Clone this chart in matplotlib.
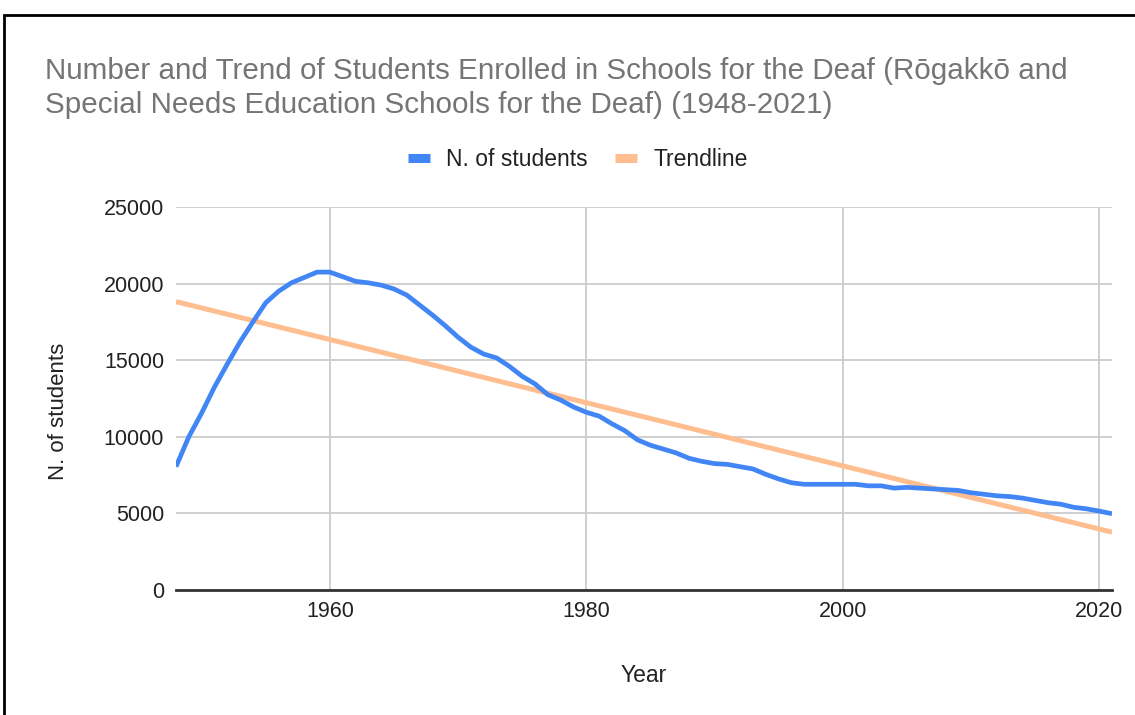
import numpy as np
import matplotlib
matplotlib.use("Agg")
import matplotlib.pyplot as plt
from matplotlib.patches import Rectangle

plt.rcParams['font.family'] = ['Liberation Sans', 'DejaVu Sans']

TITLE = ("Number and Trend of Students Enrolled in Schools for the Deaf (Rōgakkō and\n"
         "Special Needs Education Schools for the Deaf) (1948-2021)")

years = list(range(1948, 2022))
students = [
    8050, 10000, 11550, 13250, 14750, 16200, 17500, 18750, 19500, 20050,
    20400, 20750, 20750, 20450, 20150, 20050, 19900, 19650, 19250, 18600,
    17950, 17250, 16500, 15850, 15400, 15150, 14600, 13950, 13450, 12750,
    12400, 11950, 11600, 11350, 10850, 10400, 9800, 9450, 9200, 8950,
    8600, 8400, 8250, 8200, 8050, 7900, 7550, 7250, 7000, 6900,
    6900, 6900, 6900, 6900, 6800, 6800, 6650, 6700, 6650, 6600,
    6550, 6500, 6350, 6250, 6150, 6100, 6000, 5850, 5700, 5600,
    5400, 5300, 5150, 4980,
]
x_ticks = [1960, 1980, 2000, 2020]
y_ticks = [0, 5000, 10000, 15000, 20000, 25000]

BLUE = '#4285F4'
ORANGE = '#FFBE8F'
GRID = '#CCCCCC'
TXT = '#222222'

# linear trendline, like the spreadsheet does
slope, icpt = np.polyfit(years, students, 1)
trend = [slope * y + icpt for y in years]

fig = plt.figure(figsize=(11.35, 7.15), dpi=100)
ax = fig.add_axes([176 / 1135, 125 / 715, 936 / 1135, 383 / 715])

ax.plot(years, trend, color=ORANGE, lw=3.6, solid_capstyle='butt', label='Trendline', zorder=3)
ax.plot(years, students, color=BLUE, lw=3.4, solid_capstyle='butt',
        solid_joinstyle='round', label='N. of students', zorder=4)

ax.set_xlim(1948, 2021)
ax.set_ylim(0, 25000)
ax.set_xticks(x_ticks)
ax.set_yticks(y_ticks)
ax.grid(True, color=GRID, lw=1.3)
ax.set_axisbelow(True)
for s in ['top', 'right', 'left']:
    ax.spines[s].set_visible(False)
ax.spines['bottom'].set_color('#333333')
ax.spines['bottom'].set_linewidth(2)
ax.spines['bottom'].set_zorder(5)
ax.tick_params(axis='both', length=0, labelsize=15.5, colors=TXT)
ax.tick_params(axis='x', pad=8)
ax.tick_params(axis='y', pad=8.5)

ax.set_xlabel('Year', fontsize=16.5, color=TXT, labelpad=30)
fig.text(58 / 1135, 1 - 411 / 715, 'N. of students', fontsize=16, color=TXT,
         rotation=90, ha='center', va='center')

fig.text(45 / 1135, 1 - 88 / 715, TITLE, fontsize=21.3, color='#757575',
         ha='left', va='center', linespacing=1.25)

handles, labels = ax.get_legend_handles_labels()
leg = fig.legend(handles[::-1], labels[::-1], loc='center', bbox_to_anchor=(578 / 1135, 1 - 160 / 715),
                 ncol=2, frameon=False, fontsize=16.5, handlelength=0.95, handletextpad=0.7,
                 columnspacing=1.2)
for h in leg.legend_handles:
    h.set_linewidth(6.5)
for t in leg.get_texts():
    t.set_color(TXT)

# black frame around the chart (cropped on right and bottom)
fig.patches.append(Rectangle((4 / 1135, -0.1), 1.2, 1.1 - 15 / 715, transform=fig.transFigure,
                             fill=False, edgecolor='black', lw=2))

fig.savefig('out.png', dpi=100)
